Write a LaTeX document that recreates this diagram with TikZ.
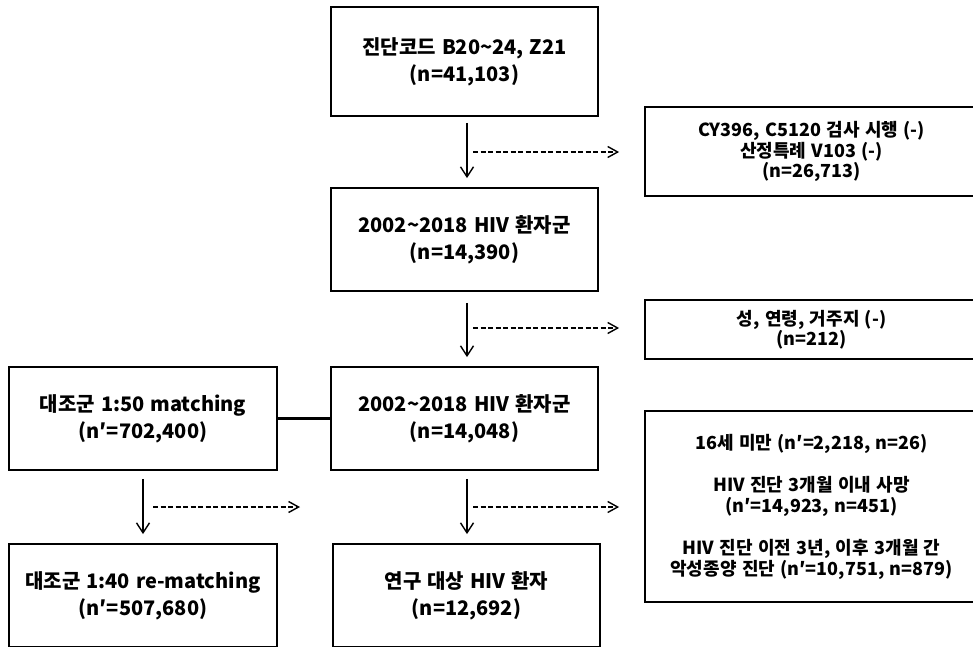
\documentclass[tikz,border=0pt]{standalone}
\usepackage{fontspec}
\newfontfamily\kr{Noto Sans CJK KR}
\newcommand\krsp{\spaceskip 0.3em\relax}
\usetikzlibrary{arrows.meta}
\tikzset{
  box/.style={draw, line width=1.8pt, inner sep=0pt, align=center},
  mainbox/.style={box, minimum width=267pt, minimum height=103pt,
    font=\kr\bfseries\fontsize{20}{27}\selectfont\krsp},
  exbox/.style={box, minimum width=333pt,
    font=\kr\bfseries\fontsize{18}{20.5}\selectfont\krsp},
  arr/.style={-{Straight Barb[length=10pt,width=13pt]}, line width=1.4pt},
  darr/.style={-{Straight Barb[length=10pt,width=11pt]}, line width=1.4pt, dash pattern=on 5pt off 2.5pt},
  link/.style={line width=2.6pt}
}
\begin{document}
\begin{tikzpicture}[x=1pt,y=-1pt]
\useasboundingbox (0,0) rectangle (973,646);
\fill[white] (0,0) rectangle (973,646);
% main column
\node[mainbox, minimum height=109pt] (A) at (464.5,61.5) {진단코드 B20\char`~24, Z21\\(n=41,103)};
\node[mainbox] (B) at (464.5,239.5) {2002\char`~2018 HIV 환자군\\(n=14,390)};
\node[mainbox] (C) at (464.5,418.5) {2002\char`~2018 HIV 환자군\\(n=14,048)};
\node[mainbox] (F) at (466.5,595.5) {연구 대상 HIV 환자\\(n=12,692)};
% control column
\node[mainbox, minimum width=268pt] (D) at (143,418.5) {대조군 1:50 matching\\(n′=702,400)};
\node[mainbox, minimum width=268pt] (E) at (143,595.5) {대조군 1:40 re-matching\\(n′=507,680)};
% exclusion boxes
\node[exbox, minimum height=89pt] (X1) at (811.5,151.5) {CY396, C5120 검사 시행 (-)\\산정특례 V103 (-)\\(n=26,713)};
\node[exbox, minimum height=59pt] (X2) at (811.5,329.5) {성, 연령, 거주지 (-)\\(n=212)};
\node[exbox, minimum height=191pt, font=\kr\bfseries\fontsize{18}{21}\selectfont\krsp] (X3) at (811.5,506.5) {16세 미만 (n′=2,218, n=26)\\[21pt]HIV 진단 3개월 이내 사망\\(n′=14,923, n=451)\\[21pt]HIV 진단 이전 3년, 이후 3개월 간\\악성종양 진단 (n′=10,751, n=879)};
% vertical arrows
\draw[arr, shorten <=6pt, shorten >=9pt] ([xshift=2.5pt]A.south) -- ([xshift=2.5pt]B.north);
\draw[arr, shorten <=11pt, shorten >=9pt] ([xshift=2.5pt]B.south) -- ([xshift=2.5pt]C.north);
\draw[arr, shorten <=8pt, shorten >=9pt] ([xshift=2.5pt]C.south) -- ([xshift=0.5pt]F.north);
\draw[arr, shorten <=8pt, shorten >=9pt] (D.south) -- (E.north);
% horizontal link
\draw[link] (D.east) -- (C.west);
% dashed arrows
\coordinate (d1) at (473,152);
\coordinate (d2) at (473,328);
\coordinate (d3) at (473,507);
\coordinate (d4) at (153,507);
\coordinate (d4e) at (300,507);
\draw[darr, shorten >=25pt] (d1) -- (d1 -| X1.west);
\draw[darr, shorten >=25pt] (d2) -- (d2 -| X2.west);
\draw[darr, shorten >=25pt] (d3) -- (d3 -| X3.west);
\draw[darr] (d4) -- (d4e);
\end{tikzpicture}
\end{document}
